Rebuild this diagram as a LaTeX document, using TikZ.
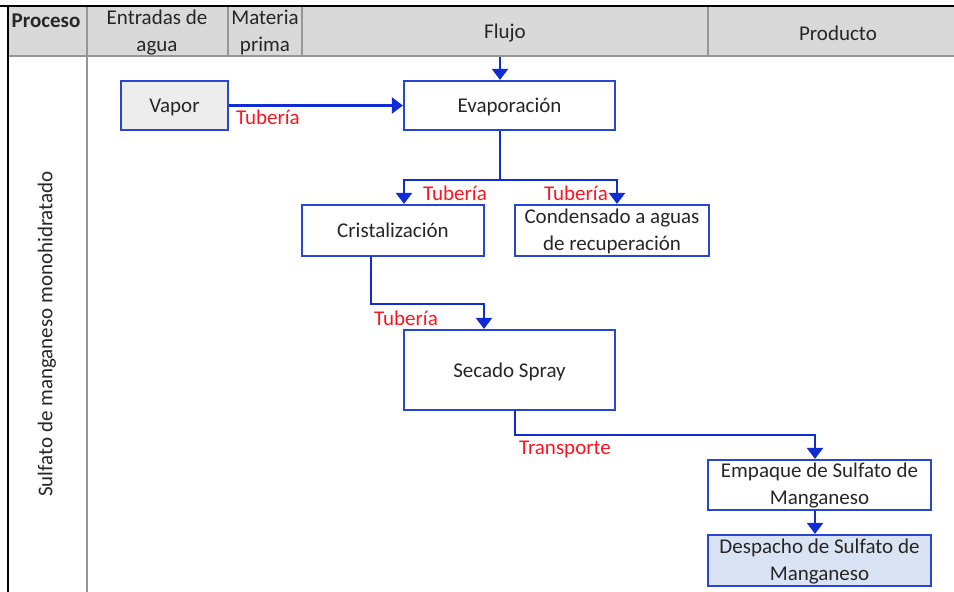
\documentclass[tikz,border=0pt]{standalone}
\usepackage{fontspec}
\setmainfont{Carlito}
\usetikzlibrary{arrows.meta}
\definecolor{boxblue}{RGB}{40,70,212}
\definecolor{flowblue}{RGB}{15,45,210}
\definecolor{headgray}{RGB}{217,217,217}
\definecolor{rulegray}{RGB}{150,150,150}
\definecolor{vaporfill}{RGB}{237,237,237}
\definecolor{dispatchfill}{RGB}{218,227,243}
\definecolor{labelred}{RGB}{255,20,30}
% stage labels: one line, or two stacked lines, with the first baseline placed
% a fixed distance from the box centre
\newcommand{\oneline}[1]{\raisebox{0pt}[14pt][0pt]{#1}}
\newcommand{\twoline}[2]{\raisebox{0pt}[15pt][29.5pt]{\begin{tabular}[t]{@{}c@{}}#1\\#2\end{tabular}}}
\begin{document}
\begin{tikzpicture}[x=1pt,y=-1pt,
  every node/.style={font=\fontsize{21}{27}\selectfont, text=black!85},
  stage/.style={draw=boxblue, line width=2.2pt, inner sep=0pt},
  flow/.style={draw=flowblue, line width=2.4pt, -{Triangle[width=16pt,length=11pt]}},
  pipe/.style={text=labelred, inner sep=0pt},
  headtxt/.style={inner sep=0pt, align=center}]
\useasboundingbox (0,0) rectangle (954,592);

% table frame and header row
\fill[headgray] (8,7) rectangle (954,56);
\draw[rulegray, line width=1.2pt] (8,56) -- (954,56);
\draw[rulegray, line width=1.5pt] (87,7) -- (87,592);
\draw[rulegray, line width=1.2pt] (228,7) -- (228,56);
\draw[rulegray, line width=1.2pt] (302,7) -- (302,56);
\draw[rulegray, line width=1.2pt] (708,7) -- (708,56);
\draw[black, line width=2pt] (0,6) -- (954,6);
\draw[black, line width=2pt] (8,6) -- (8,592);

\node[headtxt, font=\fontsize{21}{27}\selectfont\bfseries, anchor=north] (hproc) at (46,14) {Proceso};
\node[headtxt, anchor=north] (hagua) at (157,10) {Entradas de\\agua};
\node[headtxt, anchor=north] (hmat) at (265,10) {Materia\\prima};
\node[headtxt] (hflujo) at (505,33) {Flujo};
\node[headtxt] (hprod) at (838,33) {Producto};
\node[headtxt, rotate=90] (proc) at (47,334) {Sulfato de manganeso monohidratado};

% process stages
\node[stage, fill=vaporfill, minimum width=107pt, minimum height=49pt] (vapor) at (174.5,105.5) {\oneline{Vapor}};
\node[stage, minimum width=211pt, minimum height=49pt] (evap) at (509.5,105.5) {\oneline{Evaporación}};
\node[stage, minimum width=182pt, minimum height=51pt] (crist) at (393,230.5) {\oneline{Cristalización}};
\node[stage, minimum width=194pt, minimum height=51pt] (cond) at (612,230.5) {\twoline{Condensado a aguas}{de recuperación}};
\node[stage, minimum width=211pt, minimum height=80pt] (secado) at (509.5,370) {\oneline{Secado Spray}};
\node[stage, minimum width=223pt, minimum height=50pt] (empaque) at (819.5,485) {\twoline{Empaque de Sulfato de}{Manganeso}};
\node[stage, fill=dispatchfill, minimum width=223pt, minimum height=51pt] (despacho) at (819.5,560.5) {\twoline{Despacho de Sulfato de}{Manganeso}};

% routing points
\coordinate (feed) at (500,57);
\coordinate (split) at (500,180);
\coordinate (cristin) at (404,180);
\coordinate (condin) at (617,180);
\coordinate (cristout) at (371,256);
\coordinate (bend1) at (371,304);
\coordinate (secin) at (484,304);
\coordinate (secout) at (515,410);
\coordinate (bend2) at (515,435);
\coordinate (empin) at (815,435);

% connectors
\draw[flow] (feed) -- (feed |- evap.north);
\draw[flow] (vapor.east) -- (evap.west);
\draw[flow, -] (split |- evap.south) -- (split);
\draw[flow] (split) -- (cristin) -- (cristin |- crist.north);
\draw[flow] (split) -- (condin) -- (condin |- cond.north);
\draw[flow] (cristout) -- (bend1) -- (secin) -- (secin |- secado.north);
\draw[flow] (secout) -- (bend2) -- (empin) -- (empin |- empaque.north);
\draw[flow] (empin |- empaque.south) -- (empin |- despacho.north);

% transfer labels
\node[pipe] (t1) at (268,117) {Tubería};
\node[pipe] (t2) at (455,193) {Tubería};
\node[pipe] (t3) at (576,193) {Tubería};
\node[pipe] (t4) at (406,318) {Tubería};
\node[pipe] (t5) at (565,449) {Transporte};
\end{tikzpicture}
\end{document}
